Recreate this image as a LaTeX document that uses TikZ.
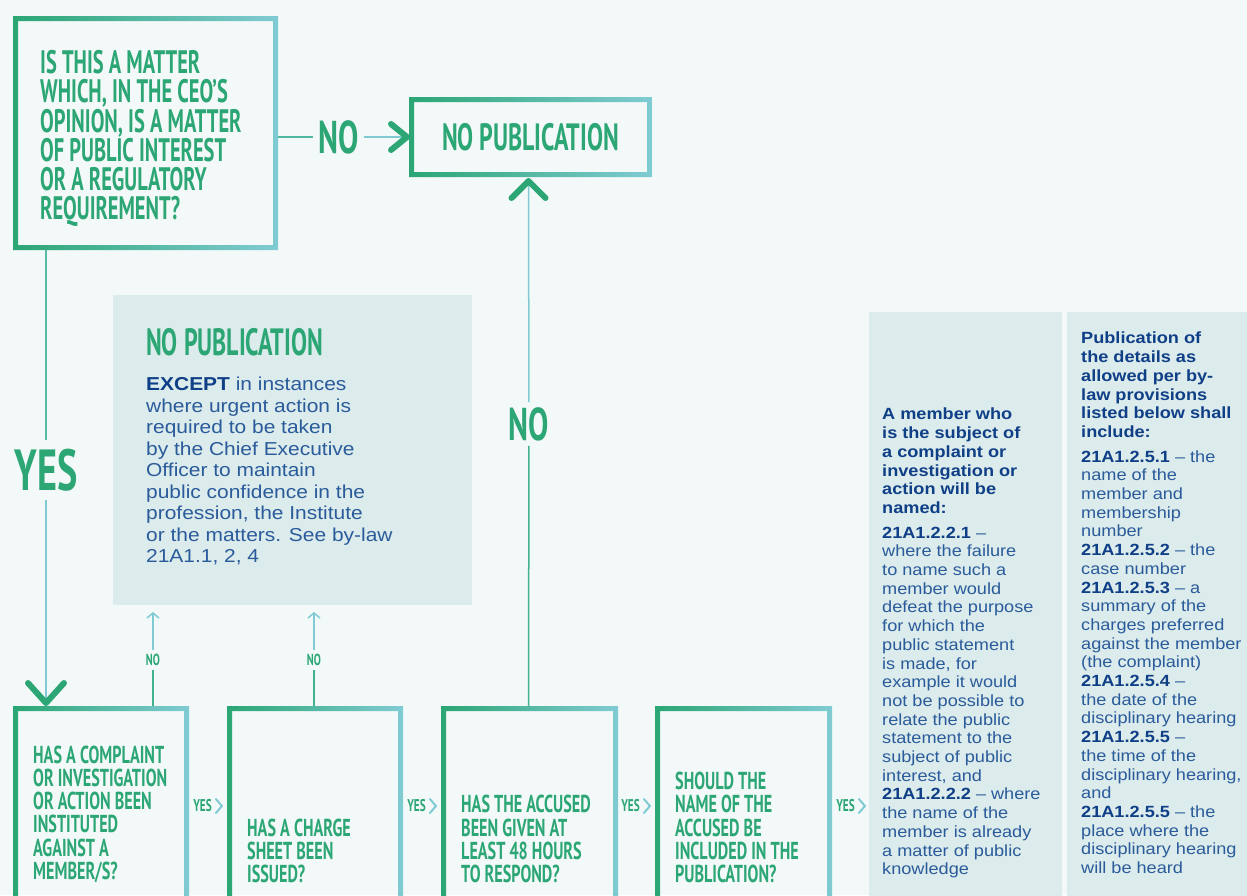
\documentclass[tikz,border=0pt]{standalone}
\usepackage{fontspec}
\usetikzlibrary{calc,arrows.meta}
\newfontfamily\headfont{PT Sans}[FakeStretch=0.66]
\newfontfamily\headfontn{PT Sans}[FakeStretch=0.63]
\newfontfamily\bodyfont{Liberation Sans}[FakeStretch=1.12]
\definecolor{bg}{HTML}{F3F9F9}
\definecolor{panelfill}{HTML}{DCEBEB}
\definecolor{grn}{HTML}{2BA674}
\definecolor{lblu}{HTML}{80CBD3}
\definecolor{bodyblue}{HTML}{2A5B9B}
\definecolor{navy}{HTML}{0F3F87}
\newcommand\gradframe[1]{%
  \shade[left color=grn,right color=lblu,even odd rule]
    (#1.north west) rectangle (#1.south east)
    ([xshift=5pt,yshift=-5pt]#1.north west) rectangle ([xshift=-5pt,yshift=5pt]#1.south east);}
\begin{document}
\begin{tikzpicture}[x=1pt,y=-1pt,
  boxarea/.style={shape=rectangle,inner sep=0pt,outer sep=0pt,anchor=north west},
  panelbox/.style={boxarea,fill=panelfill},
  bigq/.style={inner sep=0pt,anchor=north west,align=left,text=grn,
    font=\headfontn\bfseries\fontsize{32.5}{29.3}\selectfont},
  smallq/.style={inner sep=0pt,anchor=south west,align=left,text=grn,
    font=\headfont\bfseries\fontsize{24.5}{23.2}\selectfont},
  title/.style={inner sep=0pt,text=grn,font=\headfontn\bfseries\fontsize{38}{40}\selectfont},
  biglabel/.style={inner sep=5pt,text=grn,font=\headfont\bfseries\fontsize{46}{48}\selectfont},
  smalllabel/.style={inner sep=4pt,text=grn,font=\headfont\bfseries\fontsize{16}{18}\selectfont},
  yeslabel/.style={inner sep=0pt,text=grn,font=\headfont\bfseries\fontsize{17}{18}\selectfont},
  bodytext/.style={inner sep=0pt,anchor=north west,align=left,text=bodyblue,
    font=\bodyfont\fontsize{18.7}{21.5}\selectfont},
  sidetext/.style={inner sep=0pt,anchor=north west,align=left,text=bodyblue,
    font=\bodyfont\fontsize{16.2}{18.7}\selectfont},
  conn/.style={line width=1.5pt},
  chev/.style={draw=grn,line width=6pt,line cap=round,line join=round},
  smallchev/.style={draw=lblu,line width=2pt,line cap=round,line join=miter},
  uparrow/.style={draw=lblu,line width=1.5pt,-{Straight Barb[length=5pt,width=12pt,line width=1.5pt]}}
]
\useasboundingbox (0,0) rectangle (1247,895);
\clip (0,0) rectangle (1247,895);
\fill[bg] (0,0) rectangle (1247,895);

% shaded information panels
\node[panelbox,minimum width=359pt,minimum height=310pt] (p1) at (113,295) {};
\node[panelbox,minimum width=193pt,minimum height=620pt] (pA) at (869,312) {};
\node[panelbox,minimum width=220pt,minimum height=620pt] (pB) at (1067,312) {};

% question and result boxes
\node[boxarea,minimum width=265pt,minimum height=234pt] (b1) at (13,16) {};
\node[boxarea,minimum width=243pt,minimum height=80pt] (nopub) at (409,97) {};
\node[boxarea,minimum width=176pt,minimum height=260pt] (b2) at (13,706) {};
\node[boxarea,minimum width=176pt,minimum height=260pt] (b3) at (227,706) {};
\node[boxarea,minimum width=177pt,minimum height=260pt] (b4) at (441,706) {};
\node[boxarea,minimum width=177pt,minimum height=260pt] (b5) at (655,706) {};
\gradframe{b1}
\gradframe{nopub}
\gradframe{b2}
\gradframe{b3}
\gradframe{b4}
\gradframe{b5}

% box texts
\node[bigq] (t1) at (40,50) {IS THIS A MATTER\\WHICH, IN THE CEO’S\\OPINION, IS A MATTER\\OF PUBLIC INTEREST\\OR A REGULATORY\\REQUIREMENT?};
\node[title] (tnp) at (nopub.center) {NO PUBLICATION};
\node[smallq] (t2) at (33,883) {HAS A COMPLAINT\\OR INVESTIGATION\\OR ACTION BEEN\\INSTITUTED\\AGAINST A\\MEMBER/S?};
\node[smallq] (t3) at (247,883) {HAS A CHARGE\\SHEET BEEN\\ISSUED?};
\node[smallq] (t4) at (461,883) {HAS THE ACCUSED\\BEEN GIVEN AT\\LEAST 48 HOURS\\TO RESPOND?};
\node[smallq] (t5) at (675,883) {SHOULD THE\\NAME OF THE\\ACCUSED BE\\INCLUDED IN THE\\PUBLICATION?};

% panel texts
\node[title,anchor=north west] (p1title) at (146,328) {NO PUBLICATION};
\node[bodytext] (p1text) at (146,377) {{\color{navy}\bfseries EXCEPT} in instances\\where urgent action is\\required to be taken\\by the Chief Executive\\Officer to maintain\\public confidence in the\\profession, the Institute\\or the matters. See by-law\\21A1.1, 2, 4};
\node[sidetext] (pAtext) at (882,408) {{\color{navy}\bfseries A member who}\\{\color{navy}\bfseries is the subject of}\\{\color{navy}\bfseries a complaint or}\\{\color{navy}\bfseries investigation or}\\{\color{navy}\bfseries action will be}\\{\color{navy}\bfseries named:}\\[6pt]{\color{navy}\bfseries 21A1.2.2.1} –\\where the failure\\to name such a\\member would\\defeat the purpose\\for which the\\public statement\\is made, for\\example it would\\not be possible to\\relate the public\\statement to the\\subject of public\\interest, and\\{\color{navy}\bfseries 21A1.2.2.2} – where\\the name of the\\member is already\\a matter of public\\knowledge};
\node[sidetext] (pBtext) at (1081,332) {{\color{navy}\bfseries Publication of}\\{\color{navy}\bfseries the details as}\\{\color{navy}\bfseries allowed per by-}\\{\color{navy}\bfseries law provisions}\\{\color{navy}\bfseries listed below shall}\\{\color{navy}\bfseries include:}\\[6pt]{\color{navy}\bfseries 21A1.2.5.1} – the\\name of the\\member and\\membership\\number\\{\color{navy}\bfseries 21A1.2.5.2} – the\\case number\\{\color{navy}\bfseries 21A1.2.5.3} – a\\summary of the\\charges preferred\\against the member\\(the complaint)\\{\color{navy}\bfseries 21A1.2.5.4} –\\the date of the\\disciplinary hearing\\{\color{navy}\bfseries 21A1.2.5.5} –\\the time of the\\disciplinary hearing,\\and\\{\color{navy}\bfseries 21A1.2.5.5} – the\\place where the\\disciplinary hearing\\will be heard};

% connector labels
\node[biglabel] (notop) at (338.5,137) {NO};
\node[biglabel] (nomid) at (529,424) {NO};
\node[biglabel,inner sep=9pt,font=\headfont\bfseries\fontsize{58}{60}\selectfont] (yesbig) at (46,470) {YES};
\node[smalllabel] (nsm1) at (153,660) {NO};
\node[smalllabel] (nsm2) at (314,660) {NO};
\node[yeslabel] (y1) at (202.5,806) {YES};
\node[yeslabel] (y2) at (416.5,806) {YES};
\node[yeslabel] (y3) at (630.5,806) {YES};
\node[yeslabel] (y4) at (845.5,806) {YES};

% connectors
\coordinate (dtip) at (46,703);
\coordinate (rtip) at ($(nopub.west)+(-2,0)$);
\coordinate (utip) at ($(nopub.south)+(-2,4)$);
\draw[conn,draw=grn!55!lblu] (b1.east |- notop) -- (notop);
\draw[conn,draw=lblu] (notop) -- (rtip);
\draw[chev] ($(rtip)+(-16,-13)$) -- (rtip) -- ($(rtip)+(-16,13)$);

\draw[conn,draw=grn!45!lblu] (b1.south -| yesbig) -- (yesbig);
\draw[conn,draw=lblu] (yesbig) -- (dtip);
\draw[chev] ($(dtip)+(-18,-20)$) -- (dtip) -- ($(dtip)+(18,-20)$);

\draw[conn,draw=grn!70!lblu] (b4.north -| utip) -- (nomid);
\draw[conn,draw=lblu] (nomid) -- (utip);
\draw[chev] ($(utip)+(-17,17)$) -- (utip) -- ($(utip)+(17,17)$);

\draw[conn,draw=grn!70!lblu] (nsm1 |- b2.north) -- (nsm1);
\draw[uparrow] (nsm1) -- ($(nsm1 |- p1.south)+(0,7)$);
\draw[conn,draw=grn!70!lblu] (nsm2 |- b3.north) -- (nsm2);
\draw[uparrow] (nsm2) -- ($(nsm2 |- p1.south)+(0,7)$);

\foreach \y in {y1,y2,y3,y4}{
  \draw[smallchev] ($(\y.east)+(4,-7)$) -- ++(6,7) -- ++(-6,7);
}
\end{tikzpicture}
\end{document}
